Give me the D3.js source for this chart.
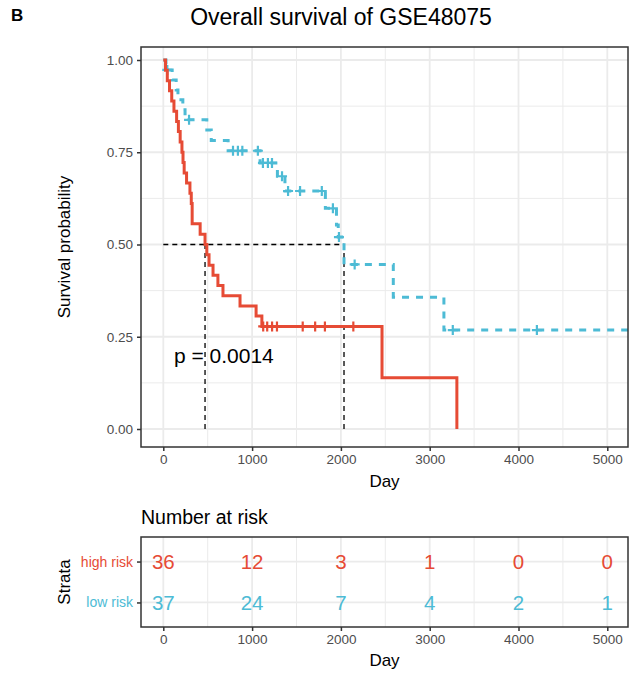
<!DOCTYPE html>
<html>
<head>
<meta charset="utf-8">
<script src="https://cdn.jsdelivr.net/npm/d3@7/dist/d3.min.js"></script>
<style>
  body { margin: 0; background: #fff; }
  text { font-family: "Liberation Sans", Arial, Helvetica, sans-serif; }
</style>
</head>
<body>
<div id="chart"></div>
<script>
// ---- data ----
const strata = ["high risk", "low risk"];
const colors = ["#E64B35", "#4DBBD5"];

// step points (day, survival) for each group
const highTime = [0, 25, 45, 70, 95, 120, 150, 170, 190, 210, 222, 235, 262, 300, 315, 325, 415, 470,
                  490, 515, 560, 615, 672, 864, 1045, 1110, 2463, 3306];
const highSurv = [1, 0.972, 0.944, 0.917, 0.889, 0.861, 0.833, 0.806, 0.778, 0.75, 0.722, 0.694, 0.667,
                  0.639, 0.611, 0.556, 0.528, 0.5, 0.472, 0.444, 0.417, 0.389, 0.361, 0.333, 0.306, 0.278,
                  0.139, 0];
const highCensor = [1125, 1170, 1225, 1280, 1570, 1710, 1820, 2140];

const lowTime = [0, 30, 100, 145, 165, 220, 245, 490, 540, 730, 1090, 1285, 1370, 1825, 1950, 1970,
                 2035, 2590, 3160, 5600];
const lowSurv = [1, 0.973, 0.946, 0.919, 0.892, 0.865, 0.838, 0.81, 0.782, 0.754, 0.721, 0.685, 0.645,
                 0.598, 0.553, 0.52, 0.446, 0.357, 0.268, 0.268];
const lowCensor = [45, 290, 785, 840, 890, 1065, 1122, 1178, 1224, 1337, 1405, 1540, 1785, 1910, 1978,
                   2155, 3260, 4207];

const medians = [470, 2035];
const pText = "p = 0.0014";

// number at risk
const riskTimes = [0, 1000, 2000, 3000, 4000, 5000];
const highRisk = [36, 12, 3, 1, 0, 0];
const lowRisk = [37, 24, 7, 4, 2, 1];

const xTicks = [0, 1000, 2000, 3000, 4000, 5000];
const yTicks = [0, 0.25, 0.5, 0.75, 1];

// ---- layout ----
const width = 638, height = 673;
const panel = { left: 141, right: 628, top: 47, bottom: 447 };
const table = { top: 537, bottom: 627 };
const gridColor = "#EBEBEB", frameColor = "#333333", tickText = "#4D4D4D";

const svg = d3.select("#chart").append("svg")
  .attr("width", width)
  .attr("height", height);

const x = d3.scaleLinear().domain([0, 5000]).range([163.3, 607.3]);
const y = d3.scaleLinear().domain([0, 1]).range([429, 60]);
const yRisk = d3.scalePoint().domain(strata).range([table.top, table.bottom]).padding(0.6);

const xMinor = xTicks.slice(0, -1).map((d, i) => (d + xTicks[i + 1]) / 2);
const yMinor = yTicks.slice(0, -1).map((d, i) => (d + yTicks[i + 1]) / 2);

svg.append("defs").append("clipPath").attr("id", "clip")
  .append("rect")
  .attr("x", panel.left).attr("y", panel.top)
  .attr("width", panel.right - panel.left).attr("height", panel.bottom - panel.top);

// panel label + title
svg.append("text").attr("x", 11).attr("y", 21)
  .style("font-size", "17px").style("font-weight", "bold").text("B");
svg.append("text").attr("x", 341).attr("y", 25).attr("text-anchor", "middle")
  .style("font-size", "23px").text("Overall survival of GSE48075");

// ---- survival panel ----
const main = svg.append("g");

main.append("g").selectAll("line").data(xMinor).join("line")
  .attr("x1", d => x(d)).attr("x2", d => x(d))
  .attr("y1", panel.top).attr("y2", panel.bottom)
  .attr("stroke", gridColor).attr("stroke-width", 1);
main.append("g").selectAll("line").data(yMinor).join("line")
  .attr("x1", panel.left).attr("x2", panel.right)
  .attr("y1", d => y(d)).attr("y2", d => y(d))
  .attr("stroke", gridColor).attr("stroke-width", 1);
main.append("g").selectAll("line").data(xTicks).join("line")
  .attr("x1", d => x(d)).attr("x2", d => x(d))
  .attr("y1", panel.top).attr("y2", panel.bottom)
  .attr("stroke", gridColor).attr("stroke-width", 1.8);
main.append("g").selectAll("line").data(yTicks).join("line")
  .attr("x1", panel.left).attr("x2", panel.right)
  .attr("y1", d => y(d)).attr("y2", d => y(d))
  .attr("stroke", gridColor).attr("stroke-width", 1.8);

// median lines
const medGroup = main.append("g")
  .attr("stroke", "#000").attr("stroke-width", 1.3).attr("stroke-dasharray", "5,4");
medGroup.append("line")
  .attr("x1", x(0)).attr("x2", x(d3.max(medians)))
  .attr("y1", y(0.5)).attr("y2", y(0.5));
medGroup.selectAll(".v").data(medians).join("line")
  .attr("x1", d => x(d)).attr("x2", d => x(d))
  .attr("y1", y(0)).attr("y2", y(0.5));

// curves
const line = d3.line()
  .x(d => x(d[0]))
  .y(d => y(d[1]))
  .curve(d3.curveStepAfter);

const groups = [
  { name: strata[0], time: highTime, surv: highSurv, censor: highCensor, color: colors[0], dash: null },
  { name: strata[1], time: lowTime, surv: lowSurv, censor: lowCensor, color: colors[1], dash: "7,7" }
];

const curves = main.append("g").attr("clip-path", "url(#clip)");
const stepAt = (g, t) => g.surv[d3.bisectRight(g.time, t) - 1];

groups.slice().reverse().forEach(g => {
  curves.append("path")
    .datum(d3.zip(g.time, g.surv))
    .attr("fill", "none")
    .attr("stroke", g.color)
    .attr("stroke-width", 3)
    .attr("stroke-dasharray", g.dash)
    .attr("d", line);
  curves.append("g").selectAll("path")
    .data(g.censor)
    .join("path")
    .attr("d", d => {
      const cx = x(d), cy = y(stepAt(g, d));
      return `M${cx - 5},${cy}H${cx + 5}M${cx},${cy - 5}V${cy + 5}`;
    })
    .attr("stroke", g.color)
    .attr("stroke-width", 2.2);
});

main.append("text")
  .attr("x", x(120)).attr("y", y(0.2))
  .attr("dy", "0.35em")
  .style("font-size", "21px")
  .text(pText);

// frame
main.append("rect")
  .attr("x", panel.left).attr("y", panel.top)
  .attr("width", panel.right - panel.left).attr("height", panel.bottom - panel.top)
  .attr("fill", "none").attr("stroke", frameColor).attr("stroke-width", 1.5);

// axes
function styleAxis(g) {
  g.select(".domain").remove();
  g.selectAll(".tick line").attr("stroke", frameColor).attr("stroke-width", 1.5);
  g.selectAll(".tick text").attr("fill", tickText).style("font-size", "13.5px");
}

main.append("g")
  .attr("transform", `translate(0,${panel.bottom})`)
  .call(d3.axisBottom(x).tickValues(xTicks).tickSize(4).tickPadding(3).tickFormat(d3.format("d")))
  .call(styleAxis);
main.append("g")
  .attr("transform", `translate(${panel.left},0)`)
  .call(d3.axisLeft(y).tickValues(yTicks).tickSize(4).tickPadding(4).tickFormat(d3.format(".2f")))
  .call(styleAxis);

main.append("text").attr("x", (panel.left + panel.right) / 2).attr("y", 487)
  .attr("text-anchor", "middle").style("font-size", "17px").text("Day");
main.append("text")
  .attr("transform", `translate(70,${(panel.top + panel.bottom) / 2}) rotate(-90)`)
  .attr("text-anchor", "middle").style("font-size", "17px").text("Survival probability");

// ---- risk table ----
const risk = svg.append("g");
risk.append("text").attr("x", panel.left).attr("y", 524)
  .style("font-size", "19.5px").text("Number at risk");

risk.append("g").selectAll("line").data(xMinor).join("line")
  .attr("x1", d => x(d)).attr("x2", d => x(d))
  .attr("y1", table.top).attr("y2", table.bottom)
  .attr("stroke", gridColor).attr("stroke-width", 1);
risk.append("g").selectAll("line").data(xTicks).join("line")
  .attr("x1", d => x(d)).attr("x2", d => x(d))
  .attr("y1", table.top).attr("y2", table.bottom)
  .attr("stroke", gridColor).attr("stroke-width", 1.8);
risk.append("g").selectAll("line").data(strata).join("line")
  .attr("x1", panel.left).attr("x2", panel.right)
  .attr("y1", d => yRisk(d)).attr("y2", d => yRisk(d))
  .attr("stroke", gridColor).attr("stroke-width", 1.8);

const riskRows = [highRisk, lowRisk];
riskRows.forEach((row, i) => {
  risk.append("g").selectAll("text")
    .data(d3.zip(riskTimes, row))
    .join("text")
    .attr("x", d => x(d[0]))
    .attr("y", yRisk(strata[i]))
    .attr("dy", "0.36em")
    .attr("text-anchor", "middle")
    .attr("fill", colors[i])
    .style("font-size", "20.5px")
    .text(d => d[1]);
});

risk.append("rect")
  .attr("x", panel.left).attr("y", table.top)
  .attr("width", panel.right - panel.left).attr("height", table.bottom - table.top)
  .attr("fill", "none").attr("stroke", frameColor).attr("stroke-width", 1.5);

risk.append("g")
  .attr("transform", `translate(0,${table.bottom})`)
  .call(d3.axisBottom(x).tickValues(xTicks).tickSize(4).tickPadding(3).tickFormat(d3.format("d")))
  .call(styleAxis);
const yRiskAxis = risk.append("g")
  .attr("transform", `translate(${panel.left},0)`)
  .call(d3.axisLeft(yRisk).tickSize(4).tickPadding(4))
  .call(styleAxis);
yRiskAxis.selectAll(".tick text").attr("fill", (d, i) => colors[i]).style("font-size", "14px");

risk.append("text").attr("x", (panel.left + panel.right) / 2).attr("y", 666)
  .attr("text-anchor", "middle").style("font-size", "17px").text("Day");
risk.append("text")
  .attr("transform", `translate(70,${(table.top + table.bottom) / 2}) rotate(-90)`)
  .attr("text-anchor", "middle").style("font-size", "17px").text("Strata");
</script>
</body>
</html>
